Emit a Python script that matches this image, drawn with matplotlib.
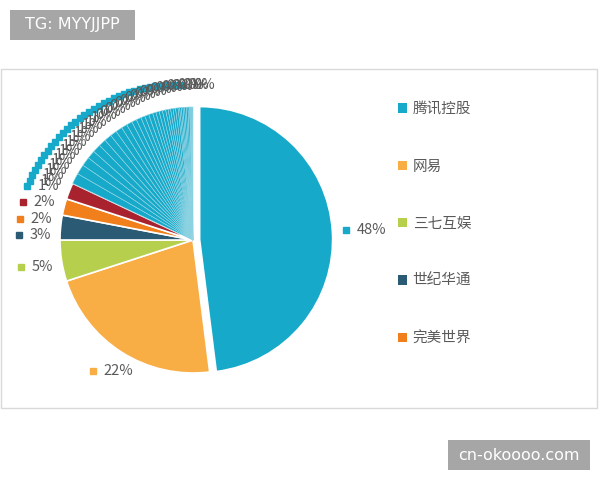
import numpy as np
import matplotlib.pyplot as plt
from matplotlib.patches import Patch, Rectangle

plt.rcParams['font.family'] = ['Noto Sans CJK SC', 'DejaVu Sans']

# shares of the named companies (clockwise from 12 o'clock)
names = ['腾讯控股', '网易', '三七互娱', '世纪华通', '完美世界']
main_share = [48, 22, 5, 3, 2, 2]
main_colors = ['#17a9c9', '#f8ae45', '#b6cf4c', '#2b5a75', '#f07f1c', '#a9232f']
# the long tail of small companies
small_share = [1.3, 1.2, 1.1, 1.0, 1.0, 0.9, 0.9, 0.8, 0.8, 0.7, 0.7, 0.6,
               0.6, 0.5, 0.5, 0.5, 0.4, 0.4, 0.4, 0.4, 0.3, 0.3, 0.3, 0.3,
               0.3, 0.2, 0.2, 0.2, 0.2, 0.2, 0.2, 0.2, 0.1, 0.1, 0.1, 0.1]
teal = '#17a9c9'
grey_txt = '#595959'

values = main_share + small_share
colors = main_colors + [teal] * len(small_share)

W, H = 600, 480
fig = plt.figure(figsize=(6, 4.8), dpi=100)

# light frame of the chart area
fig.patches.append(Rectangle((1 / W, 72 / H), 596 / W, 339 / H, transform=fig.transFigure,
                             fill=False, ec='#d9d9d9', lw=1))

# pie axes, centre at (193, 240) px, radius 133 px
R, cx, cy, L = 133, 193, 240, 1.7
ax = fig.add_axes([(cx - L * R) / W, (cy - L * R) / H, 2 * L * R / W, 2 * L * R / H])
explode = [0.05] + [0] * (len(values) - 1)
wedges, _ = ax.pie(values, colors=colors, startangle=90, counterclock=False,
                   explode=explode, radius=1,
                   wedgeprops=dict(edgecolor='#9ad8e6', linewidth=0.4))
for w in wedges[:6]:
    w.set_edgecolor('white')
    w.set_linewidth(1.2)
ax.set_xlim(-L, L)
ax.set_ylim(-L, L)
ax.axis('off')


def put_label(ang, r, txt, col):
    a = np.deg2rad(ang)
    x, y = r * np.cos(a), r * np.sin(a)
    ax.plot(x, y, 's', ms=5, color=col, clip_on=False)
    ax.text(x + 0.08, y, txt, fontsize=10.5, color=grey_txt, va='center', ha='left',
            clip_on=False)


mids = [(w.theta1 + w.theta2) / 2 for w in wedges]

# big slices on right / bottom
put_label(mids[0], 1.15, f'{main_share[0]}%', main_colors[0])
put_label(mids[1] - 5, 1.24, f'{main_share[1]}%', main_colors[1])

# crowded tail: spread along an arc
n = len(small_share)
t = np.linspace(0, 1, n)
angs = 162 - 68 * t
rads = 1.31 - 0.14 * t
for i in range(n - 1, -1, -1):
    put_label(angs[i], rads[i], f'{int(small_share[i] + 0.5)}%', teal)

# left-side named slices pushed apart counter-clockwise
prev = angs[0]
for k in [5, 4, 3, 2]:
    a = max(mids[k] % 360, prev + 5.5)
    put_label(a, 1.31, f'{main_share[k]}%', main_colors[k])
    prev = a

# legend
handles = [Patch(facecolor=c, edgecolor='none') for c in main_colors[:5]]
fig.legend(handles, names, loc='upper left', bbox_to_anchor=(385 / W, 1 - 89 / H),
           frameon=False, fontsize=10.5, labelcolor=grey_txt, handlelength=0.6,
           handleheight=0.6, handletextpad=0.4, labelspacing=2.97)

# watermark boxes
fig.patches.append(Rectangle((10 / W, 1 - 40 / H), 125 / W, 30 / H, transform=fig.transFigure,
                             fc='#a6a6a6', ec='none'))
fig.text(72.5 / W, 1 - 25 / H, 'TG: MYYJJPP', color='white', fontsize=11.5,
         ha='center', va='center', family='DejaVu Sans')
fig.patches.append(Rectangle((448 / W, 10 / H), 142 / W, 30 / H, transform=fig.transFigure,
                             fc='#a6a6a6', ec='none'))
fig.text(519 / W, 25 / H, 'cn-okoooo.com', color='white', fontsize=11.5,
         ha='center', va='center', family='DejaVu Sans')

fig.savefig('out.png', dpi=100)
